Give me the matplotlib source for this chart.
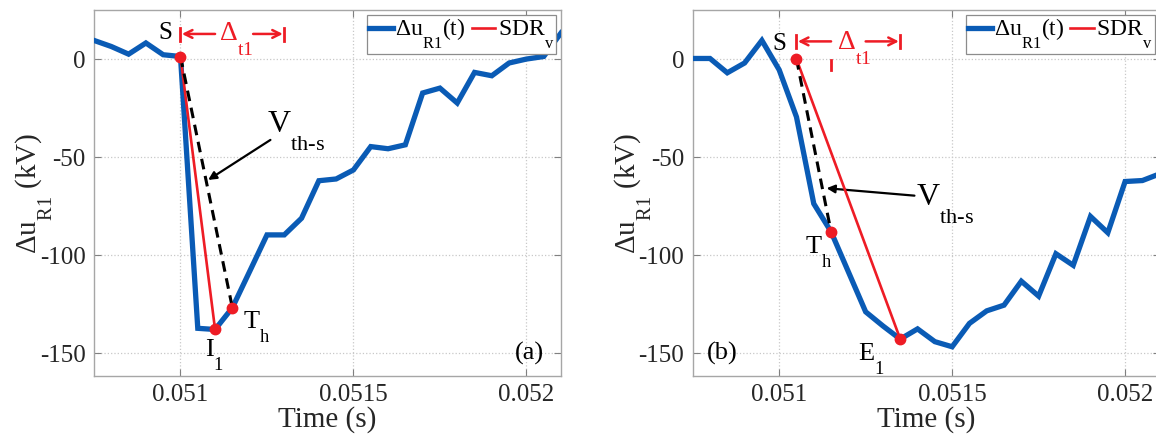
import matplotlib
matplotlib.use("Agg")
import matplotlib.pyplot as plt
import matplotlib._mathtext as mathtext

plt.rcParams['font.family'] = ['Liberation Serif', 'DejaVu Serif']
plt.rcParams['mathtext.fontset'] = 'custom'
plt.rcParams['mathtext.rm'] = 'Liberation Serif'
plt.rcParams['mathtext.it'] = 'Liberation Serif:italic'
plt.rcParams['axes.unicode_minus'] = False
# drop subscripts lower below the baseline, MATLAB style
mathtext.FontConstantsBase.sub1 = 1.2

# sample times (s)
t = [0.05075, 0.0508, 0.05085, 0.0509, 0.05095, 0.051, 0.05105, 0.0511,
     0.05115, 0.0512, 0.05125, 0.0513, 0.05135, 0.0514, 0.05145, 0.0515,
     0.05155, 0.0516, 0.05165, 0.0517, 0.05175, 0.0518, 0.05185, 0.0519,
     0.05195, 0.052, 0.05205, 0.0521]

# voltage deviation (kV), case (a) and case (b)
du_a = [9.5, 6.4, 2.5, 8.2, 2.2, 1.3, -137.2, -137.8, -126.7, -108.2, -89.6,
        -89.6, -81.1, -62.0, -61.1, -56.5, -44.6, -45.7, -43.7, -17.3, -14.8,
        -22.4, -6.8, -8.5, -2.0, 0.0, 1.3, 13.3]
du_b = [0.3, 0.3, -7.0, -2.0, 9.5, -5.5, -29.5, -73.7, -88.0, -108.4, -128.8,
        -136.0, -142.7, -137.5, -144.0, -146.6, -134.7, -128.3, -125.4, -113.2,
        -120.8, -99.2, -105.1, -80.2, -88.5, -62.4, -61.9, -58.5]

# characteristic points: start S, threshold point Th, end point (I1 / E1)
s_a, th_a, end_a = (0.051, 1.3), (0.05115, -126.7), (0.0511, -137.8)
s_b, th_b, end_b = (0.05105, 0.0), (0.05115, -88.0), (0.05135, -142.7)

xticks = [0.051, 0.0515, 0.052]
xtick_labels = ['0.051', '0.0515', '0.052']
yticks = [-150, -100, -50, 0]
ytick_labels = ['-150', '-100', '-50', '0']

BLUE = '#0a5bb5'
RED = '#ee1c25'
GRAY = '#a6a6a6'

fig = plt.figure(figsize=(11.56, 4.41), dpi=100)
ax_a = fig.add_axes([94 / 1156, 65 / 441, 467 / 1156, 366 / 441])
ax_b = fig.add_axes([692.7 / 1156, 65 / 441, 467 / 1156, 366 / 441])


def setup(ax, u, s, th, end):
    ax.plot(t, u, color=BLUE, lw=3.8, solid_joinstyle='miter', zorder=3,
            label=r'$\Delta$u$_{\mathrm{R1}}$(t)')
    ax.plot([s[0], end[0]], [s[1], end[1]], color=RED, lw=1.9, zorder=4,
            label=r'SDR$_{\mathrm{v}}$')
    ax.plot([s[0], th[0]], [s[1], th[1]], color='black', lw=2.2,
            linestyle=(0, (3.5, 2.2)), zorder=4)
    ax.plot([s[0], th[0], end[0]], [s[1], th[1], end[1]], 'o', color=RED,
            ms=7.5, zorder=5)

    ax.set_xlim(0.05075, 0.0521)
    ax.set_ylim(-161.5, 25)
    ax.set_xticks(xticks, xtick_labels)
    ax.set_yticks(yticks, ytick_labels)
    ax.grid(True, linestyle=':', color='#c8c8c8', lw=0.9)
    ax.tick_params(direction='in', length=5, width=0.8, color='#808080',
                   labelsize=18, labelcolor='#262626', pad=6,
                   top=True, right=True)
    for sp in ax.spines.values():
        sp.set_color(GRAY)
        sp.set_linewidth(1.0)
    ax.set_xlabel('Time (s)', fontsize=21, labelpad=0, color='#262626')
    ax.set_ylabel(r'$\Delta$u$_{\mathrm{R1}}$ (kV)', fontsize=21,
                  color='#262626')
    ax.yaxis.set_label_coords(-0.083, 0.5)

    leg = ax.legend(loc='upper right', ncol=2, fontsize=17, frameon=True,
                    fancybox=False, edgecolor='#8c8c8c', framealpha=1,
                    handlelength=1.0, handletextpad=0.1, columnspacing=0.25,
                    borderpad=0.1, borderaxespad=0.2)
    leg.get_frame().set_linewidth(0.9)


def delta_t(ax, x0, x1, xt, tail0, tail1, yb0, yb1, ya, yt):
    ax.plot([x0, x0], [yb0, yb1], color=RED, lw=2, zorder=4)
    ax.plot([x1, x1], [yb0, yb1], color=RED, lw=2, zorder=4)
    ax.annotate('', xy=(x0, ya), xytext=(tail0, ya),
                arrowprops=dict(arrowstyle='->', color=RED, lw=1.8,
                                mutation_scale=14, shrinkA=0, shrinkB=1))
    ax.annotate('', xy=(x1, ya), xytext=(tail1, ya),
                arrowprops=dict(arrowstyle='->', color=RED, lw=1.8,
                                mutation_scale=14, shrinkA=0, shrinkB=1))
    ax.text(xt, yt, r'$\Delta_{\mathrm{t1}}$', color=RED, fontsize=20,
            ha='left', va='baseline')


# panel (a)
setup(ax_a, du_a, s_a, th_a, end_a)
delta_t(ax_a, 0.051, 0.0513, 0.051112, 0.0511, 0.05121, 9.0, 15.8, 12.8, 9.5)
ax_a.text(0.050955, 10.2, 'S', fontsize=18, ha='center', va='baseline')
ax_a.annotate('', xy=(0.05108, -61.6), xytext=(0.05126, -41.2),
              arrowprops=dict(arrowstyle='-|>', color='black', lw=1.6,
                              mutation_scale=12, shrinkA=0, shrinkB=0))
ax_a.text(0.05125, -37, r'V$_{\mathrm{th\text{-}s}}$', fontsize=23,
          ha='left', va='baseline')
ax_a.text(0.05118, -137.3, r'T$_{\mathrm{h}}$', fontsize=19, ha='left',
          va='baseline')
ax_a.text(0.0511, -151.7, r'I$_{\mathrm{1}}$', fontsize=19, ha='center',
          va='baseline')
ax_a.text(0.05201, -150, '(a)', fontsize=19, ha='center', va='center')

# panel (b)
setup(ax_b, du_b, s_b, th_b, end_b)
delta_t(ax_b, 0.05105, 0.05135, 0.051166, 0.05115, 0.05125, 5.6, 12.4, 9.0, 4.7)
ax_b.plot([0.05115, 0.05115], [-0.4, -5.5], color=RED, lw=2, zorder=4)
ax_b.text(0.051, 4.7, 'S', fontsize=18, ha='center', va='baseline')
ax_b.annotate('', xy=(0.051137, -65.8), xytext=(0.051391, -69.6),
              arrowprops=dict(arrowstyle='-|>', color='black', lw=1.6,
                              mutation_scale=12, shrinkA=0, shrinkB=0))
ax_b.text(0.051396, -74.3, r'V$_{\mathrm{th\text{-}s}}$', fontsize=23,
          ha='left', va='baseline')
ax_b.text(0.051074, -99.3, r'T$_{\mathrm{h}}$', fontsize=19, ha='left',
          va='baseline')
ax_b.text(0.051266, -153.4, r'E$_{\mathrm{1}}$', fontsize=19, ha='center',
          va='baseline')
ax_b.text(0.050834, -150, '(b)', fontsize=19, ha='center', va='center')

fig.savefig('out.png', dpi=100)
